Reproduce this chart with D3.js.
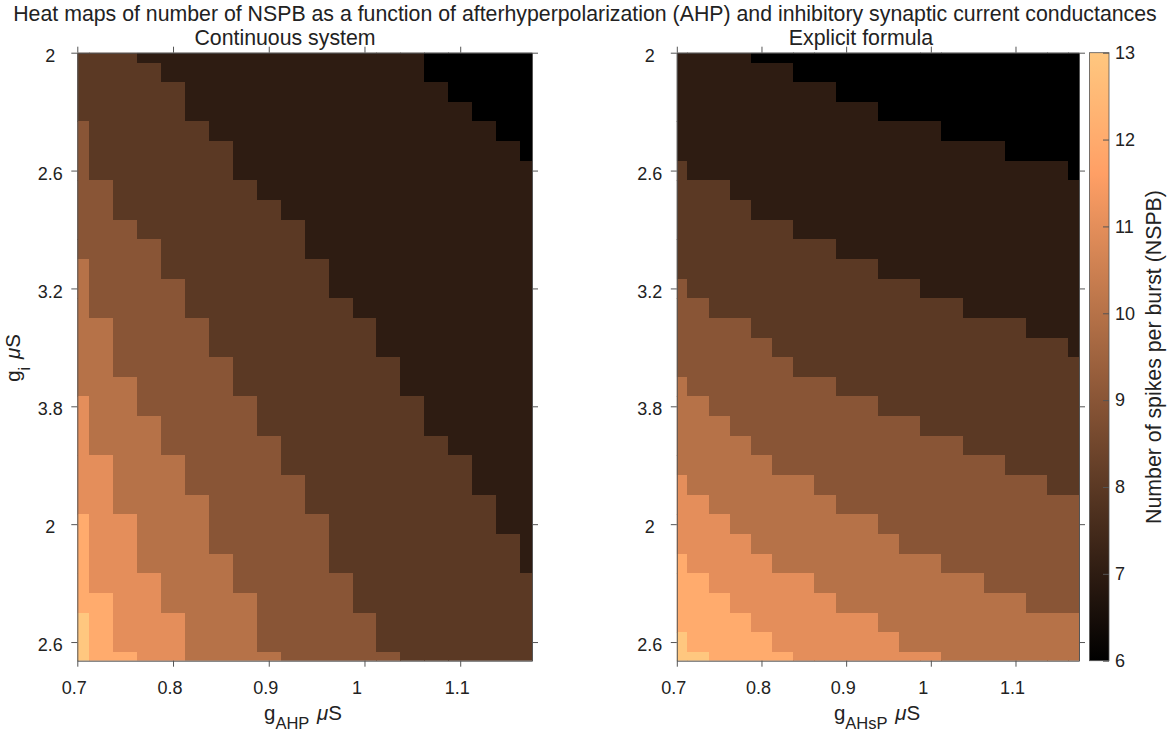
<!DOCTYPE html>
<html>
<head>
<meta charset="utf-8">
<script src="https://cdnjs.cloudflare.com/ajax/libs/d3/7.8.5/d3.min.js"></script>
<style>
  html, body { margin: 0; padding: 0; background: #fff; }
  text { font-family: "Liberation Sans", Arial, sans-serif; fill: #222; }
  .domain, .tick line { stroke: #555; }
</style>
</head>
<body>
<svg id="chart" width="1170" height="735"></svg>
<script>
// grid of the two maps (cell centres)
var gAhp = [0.7, 0.725, 0.75, 0.775, 0.8, 0.825, 0.85, 0.875, 0.9, 0.925, 0.95, 0.975, 1, 1.025, 1.05, 1.075, 1.1, 1.125, 1.15, 1.175];
var gInh = [2, 2.1, 2.2, 2.3, 2.4, 2.5, 2.6, 2.7, 2.8, 2.9, 3, 3.1, 3.2, 3.3, 3.4, 3.5, 3.6, 3.7, 3.8, 3.9, 4, 4.1, 4.2, 4.3, 4.4, 4.5, 4.6, 4.7, 4.8, 4.9, 5, 5.1];

// for each row, how many columns (from the left) reach that NSPB
var levels = [7, 8, 9, 10, 11, 12, 13];
var leftReach = [
  [15,15,16,17,18,19,20,20,20,20,20,20,20,20,20,20,20,20,20,20,20,20,20,20,20,20,20,20,20,20,20,20],
  [3,4,5,5,6,7,7,8,9,10,10,11,11,12,13,13,14,14,15,15,16,17,17,18,18,19,19,20,20,20,20,20],
  [0,0,0,0,1,1,1,2,2,3,4,4,5,5,6,6,7,7,8,8,9,9,10,10,11,11,11,12,12,13,13,14],
  [0,0,0,0,0,0,0,0,0,0,0,1,1,1,2,2,2,3,3,4,4,5,5,6,6,6,7,7,8,8,8,9],
  [0,0,0,0,0,0,0,0,0,0,0,0,0,0,0,0,0,0,1,1,1,2,2,2,3,3,3,4,4,5,5,5],
  [0,0,0,0,0,0,0,0,0,0,0,0,0,0,0,0,0,0,0,0,0,0,0,0,1,1,1,1,2,2,2,3],
  [0,0,0,0,0,0,0,0,0,0,0,0,0,0,0,0,0,0,0,0,0,0,0,0,0,0,0,0,0,1,1,1]
];
var rightReach = [
  [4,6,8,10,13,16,19,20,20,20,20,20,20,20,20,20,20,20,20,20,20,20,20,20,20,20,20,20,20,20,20,20],
  [0,0,0,0,0,0,1,3,4,6,8,10,12,14,17,19,20,20,20,20,20,20,20,20,20,20,20,20,20,20,20,20],
  [0,0,0,0,0,0,0,0,0,0,0,0,1,2,4,5,6,8,10,12,14,16,18,20,20,20,20,20,20,20,20,20],
  [0,0,0,0,0,0,0,0,0,0,0,0,0,0,0,0,0,1,2,3,4,5,7,8,10,11,13,15,17,20,20,20],
  [0,0,0,0,0,0,0,0,0,0,0,0,0,0,0,0,0,0,0,0,0,0,1,2,3,4,5,7,8,10,11,13],
  [0,0,0,0,0,0,0,0,0,0,0,0,0,0,0,0,0,0,0,0,0,0,0,0,0,0,1,2,3,4,5,6],
  [0,0,0,0,0,0,0,0,0,0,0,0,0,0,0,0,0,0,0,0,0,0,0,0,0,0,0,0,0,0,1,2]
];

var xTicks = [0.7, 0.8, 0.9, 1, 1.1];
var xTickLabels = ["0.7", "0.8", "0.9", "1", "1.1"];
var yTicks = [2, 2.6, 3.2, 3.8, 4.4, 5];
var yTickLabels = ["2", "2.6", "3.2", "3.8", "2", "2.6"];   // as printed on the original
var barTicks = [6, 7, 8, 9, 10, 11, 12, 13];

var titleText = "Heat maps of number of NSPB as a function of afterhyperpolarization (AHP) and inhibitory synaptic current conductances";

var svg = d3.select("#chart");

// MATLAB copper
function copper(t) {
  return d3.rgb(255 * Math.min(1, 1.25 * t), 255 * 0.7812 * t, 255 * 0.4975 * t);
}
var color = d3.scaleSequential(copper).domain([6, 13]);

var yTop = 52.7, yBottom = 660.7;
var y = d3.scaleLinear().domain([2, 5.095]).range([yTop, yBottom]);

function cellsFrom(reach) {
  var cells = [];
  gInh.forEach(function (gi, row) {
    gAhp.forEach(function (ga, col) {
      var n = 6;
      levels.forEach(function (lev, k) { if (col < reach[k][row]) n = lev; });
      cells.push({ ga: ga, gi: gi, n: n });
    });
  });
  return cells;
}

function drawMap(id, reach, x0, x1) {
  var x = d3.scaleLinear().domain([0.7, 1.175]).range([x0, x1]);
  var g = svg.append("g").attr("class", id);

  g.append("clipPath").attr("id", "clip-" + id)
    .append("rect")
    .attr("x", x0).attr("y", yTop)
    .attr("width", x1 - x0).attr("height", yBottom - yTop);

  g.append("g").attr("clip-path", "url(#clip-" + id + ")")
    .attr("shape-rendering", "crispEdges")
    .selectAll("rect")
    .data(cellsFrom(reach))
    .join("rect")
    .attr("x", function (d) { return x(d.ga - 0.0125); })
    .attr("y", function (d) { return y(d.gi - 0.05); })
    .attr("width", x(0.725) - x(0.7) + 0.3)
    .attr("height", y(2.1) - y(2) + 0.3)
    .attr("fill", function (d) { return color(d.n); });

  // ticks point outwards on all four sides
  var bottomAxis = d3.axisBottom(x).tickValues(xTicks).tickSize(6).tickSizeOuter(0)
    .tickFormat(function (d, i) { return xTickLabels[i]; });
  var leftAxis = d3.axisLeft(y).tickValues(yTicks).tickSize(6).tickSizeOuter(0)
    .tickFormat(function (d, i) { return yTickLabels[i]; });

  var ax = g.append("g").attr("transform", "translate(0," + yBottom + ")").call(bottomAxis);
  ax.selectAll("text")
    .attr("text-anchor", "start")
    .attr("x", function (d) { return d === 1 ? -13 : -16; })
    .attr("y", 33).attr("dy", 0)
    .style("font-size", "18px");

  var ay = g.append("g").attr("transform", "translate(" + x0 + ",0)").call(leftAxis);
  ay.selectAll("text")
    .attr("text-anchor", "middle").attr("x", -27).attr("dy", 8.6)
    .style("font-size", "18px");

  g.append("g").attr("transform", "translate(0," + yTop + ")")
    .call(d3.axisTop(x).tickValues(xTicks).tickSize(6).tickSizeOuter(0).tickFormat(""));
  g.append("g").attr("transform", "translate(" + x1 + ",0)")
    .call(d3.axisRight(y).tickValues(yTicks).tickSize(6).tickSizeOuter(0).tickFormat(""));
  return x;
}

drawMap("cont", leftReach, 77.3, 532);
drawMap("expl", rightReach, 676.8, 1079);

// colour bar
var barX = 1089.5, barW = 19.5;
var barY = d3.scaleLinear().domain([6, 13]).range([yBottom, yTop]);
var grad = svg.append("defs").append("linearGradient")
  .attr("id", "copper").attr("x1", 0).attr("y1", 1).attr("x2", 0).attr("y2", 0);
grad.selectAll("stop")
  .data([6, 7, 8, 9, 10, 11.6, 12, 13])
  .join("stop")
  .attr("offset", function (d) { return (d - 6) / 7; })
  .attr("stop-color", function (d) { return color(d); });
svg.append("rect")
  .attr("x", barX).attr("y", yTop)
  .attr("width", barW).attr("height", yBottom - yTop)
  .attr("fill", "url(#copper)")
  .attr("stroke", "#555").attr("stroke-width", 0.8);
var barAxis = svg.append("g").attr("transform", "translate(" + (barX + barW) + ",0)")
  .call(d3.axisRight(barY).tickValues(barTicks).tickSize(-6).tickFormat(d3.format("d")));
barAxis.select(".domain").remove();
barAxis.selectAll("text")
  .attr("x", 6).attr("text-anchor", "start").style("font-size", "18px");

// titles
svg.append("text").attr("x", 585).attr("y", 21).attr("text-anchor", "middle")
  .style("font-size", "21.3px").text(titleText);
svg.append("text").attr("x", 285).attr("y", 45).attr("text-anchor", "middle")
  .style("font-size", "21.3px").text("Continuous system");
svg.append("text").attr("x", 861).attr("y", 45).attr("text-anchor", "middle")
  .style("font-size", "21.3px").text("Explicit formula");

// axis labels with subscripts
function gLabel(sel, sub) {
  sel.style("font-size", "20.5px");
  sel.append("tspan").text("g");
  sel.append("tspan").attr("dy", 9.5).style("font-size", "16.5px").text(sub);
  sel.append("tspan").attr("dy", -9.5).attr("dx", 2).text(" ");
  sel.append("tspan").style("font-style", "italic").text("\u03bc");
  sel.append("tspan").text("S");
}
svg.append("text").attr("x", 303).attr("y", 719.5).attr("text-anchor", "middle").call(gLabel, "AHP");
svg.append("text").attr("x", 877).attr("y", 719.5).attr("text-anchor", "middle").call(gLabel, "AHsP");
svg.append("text").attr("transform", "translate(20,358) rotate(-90)").attr("text-anchor", "middle").call(gLabel, "i");
svg.append("text").attr("transform", "translate(1161,357) rotate(-90)").attr("text-anchor", "middle")
  .style("font-size", "21.3px").text("Number of spikes per burst (NSPB)");
</script>
</body>
</html>
